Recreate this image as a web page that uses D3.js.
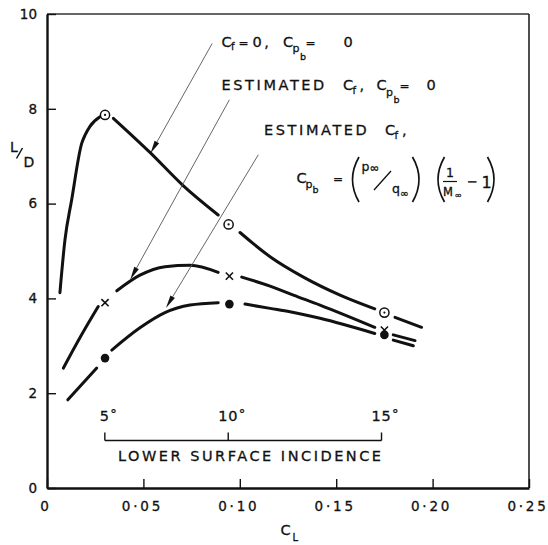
<!DOCTYPE html>
<html>
<head>
<meta charset="utf-8">
<script src="https://cdn.jsdelivr.net/npm/d3@7"></script>
<style>
  html, body { margin: 0; padding: 0; background: #fff; }
  svg { display: block; font-family: "DejaVu Sans", sans-serif; }
  svg text { stroke: #111; stroke-width: 0.3px; }
</style>
</head>
<body>
<svg id="chart" width="548" height="545"></svg>
<script>
// ---- axis ticks ----
const xTickValues = [0, 0.05, 0.10, 0.15, 0.20, 0.25];
const xTickLabels = ["0", "0·05", "0·10", "0·15", "0·20", "0·25"];
const yTickValues = [0, 2, 4, 6, 8, 10];
const yTickLabels = ["0", "2", "4", "6", "8", "10"];

// ---- L/D against C_L, each curve stored as its drawn pieces [C_L, L/D] ----
// C_f = 0, C_pb = 0
const zeroDragSegments = [
  [[0.0067, 4.12], [0.0093, 5.23], [0.0128, 6.08], [0.018, 7.27], [0.0198, 7.45], [0.0223, 7.63], [0.0275, 7.83]],
  [[0.0344, 7.80], [0.0534, 7.08], [0.0706, 6.38], [0.0888, 5.76]],
  [[0.1001, 5.39], [0.1157, 4.88], [0.133, 4.45], [0.152, 4.07], [0.170, 3.78]],
  [[0.1805, 3.60], [0.1943, 3.39]]
];
const zeroDragPoints = [[0.0301, 7.87], [0.0942, 5.56], [0.175, 3.70]];

// estimated C_f, C_pb = 0
const frictionSegments = [
  [[0.0085, 2.53], [0.0175, 3.20], [0.0266, 3.83]],
  [[0.0362, 4.16], [0.0482, 4.49], [0.0612, 4.67], [0.0742, 4.70], [0.0888, 4.55]],
  [[0.101, 4.45], [0.1157, 4.26], [0.1278, 4.07], [0.1416, 3.86], [0.170, 3.39]],
  [[0.1796, 3.23], [0.1909, 3.11]]
];
const frictionPoints = [[0.0301, 3.91], [0.0946, 4.47], [0.175, 3.33]];

// estimated C_f and base pressure
const basePressureSegments = [
  [[0.0108, 1.86], [0.0258, 2.53]],
  [[0.0336, 2.91], [0.0482, 3.38], [0.0612, 3.70], [0.0742, 3.86], [0.0888, 3.91]],
  [[0.1027, 3.88], [0.1157, 3.79], [0.126, 3.72], [0.1416, 3.58], [0.170, 3.26]],
  [[0.1796, 3.12], [0.19, 3.00]]
];
const basePressurePoints = [[0.0301, 2.74], [0.0946, 3.88], [0.175, 3.23]];

// lower surface incidence scale
const incidenceCL = [0.030, 0.094, 0.1735];
const incidenceLabels = ["5", "10", "15"];

// leader arrows: start at label, tip on curve [C_L, L/D]
const leaderStarts = [[0.0857, 9.38], [0.0946, 8.19], [0.1096, 7.03]];
const leaderTips = [[0.0537, 7.06], [0.0432, 4.40], [0.0617, 3.80]];

// ---- layout ----
const svg = d3.select("#chart");
const ink = "#111";
const x = d3.scaleLinear().domain([0, 0.25]).range([47, 529]);
const y = d3.scaleLinear().domain([0, 10]).range([488, 14]);

// frame (top and right)
svg.append("line").attr("x1", x(0)).attr("x2", x(0.25)).attr("y1", y(10)).attr("y2", y(10))
  .attr("stroke", "#333").attr("stroke-width", 1.3);
svg.append("line").attr("x1", x(0.25)).attr("x2", x(0.25)).attr("y1", y(10)).attr("y2", y(0))
  .attr("stroke", "#222").attr("stroke-width", 1.6);

// axes with inward ticks
const xAxis = d3.axisBottom(x).tickValues(xTickValues)
  .tickFormat((d, i) => xTickLabels[i]).tickSizeInner(-9).tickSizeOuter(0).tickPadding(13);
const yAxis = d3.axisLeft(y).tickValues(yTickValues)
  .tickFormat((d, i) => yTickLabels[i]).tickSizeInner(-9).tickSizeOuter(0).tickPadding(10);

const gx = svg.append("g").attr("transform", `translate(0,${y(0)})`).call(xAxis);
const gy = svg.append("g").attr("transform", `translate(${x(0)},0)`).call(yAxis);
[gx, gy].forEach(g => {
  g.attr("font-family", null).attr("font-size", null);
  g.select(".domain").attr("stroke", ink).attr("stroke-width", 2.4);
  g.selectAll(".tick line").attr("stroke", ink).attr("stroke-width", 1.4);
  g.selectAll(".tick text").attr("fill", ink).attr("font-size", 13.5);
});
gx.selectAll(".tick text").attr("letter-spacing", 2.8).attr("dx", -1.5);

// axis titles
svg.append("text").attr("x", 10).attr("y", 151.5).attr("fill", ink).attr("font-size", 14).text("L");
svg.append("line").attr("x1", 16.5).attr("y1", 158.5).attr("x2", 22.5).attr("y2", 148)
  .attr("stroke", ink).attr("stroke-width", 1.5);
svg.append("text").attr("x", 23.5).attr("y", 166.5).attr("fill", ink).attr("font-size", 14).text("D");
svg.append("text").attr("fill", ink)
  .call(t => {
    t.append("tspan").attr("x", 280.5).attr("y", 535).attr("font-size", 14.5).text("C");
    t.append("tspan").attr("x", 292.5).attr("y", 541).attr("font-size", 10).text("L");
  });

// ---- curves ----
const line = d3.line().x(d => x(d[0])).y(d => y(d[1])).curve(d3.curveMonotoneX);
const curves = svg.append("g").attr("fill", "none").attr("stroke", ink)
  .attr("stroke-width", 3).attr("stroke-linecap", "round");
[zeroDragSegments, frictionSegments, basePressureSegments].forEach(segs => {
  curves.selectAll(null).data(segs).enter().append("path").attr("d", line);
});

// markers
const m1 = svg.append("g").selectAll("g").data(zeroDragPoints).enter().append("g")
  .attr("transform", d => `translate(${x(d[0])},${y(d[1])})`);
m1.append("circle").attr("r", 4.6).attr("fill", "#fff").attr("stroke", ink).attr("stroke-width", 1.5);
m1.append("circle").attr("r", 1.1).attr("fill", ink);

svg.append("g").selectAll("path").data(frictionPoints).enter().append("path")
  .attr("transform", d => `translate(${x(d[0])},${y(d[1])})`)
  .attr("d", "M-3.6,-3.6L3.6,3.6M-3.6,3.6L3.6,-3.6")
  .attr("stroke", ink).attr("stroke-width", 1.6).attr("fill", "none");

svg.append("g").selectAll("circle").data(basePressurePoints).enter().append("circle")
  .attr("cx", d => x(d[0])).attr("cy", d => y(d[1])).attr("r", 4.3).attr("fill", ink);

// ---- leader arrows ----
const leaders = svg.append("g");
leaderStarts.forEach((s, i) => {
  const t = leaderTips[i];
  const x0 = x(s[0]), y0 = y(s[1]), x1 = x(t[0]), y1 = y(t[1]);
  const a = Math.atan2(y1 - y0, x1 - x0);
  const len = 13, half = 2.6;
  const bx = x1 - len * Math.cos(a), by = y1 - len * Math.sin(a);
  leaders.append("line").attr("x1", x0).attr("y1", y0).attr("x2", bx).attr("y2", by)
    .attr("stroke", "#555").attr("stroke-width", 0.9);
  leaders.append("path")
    .attr("d", `M${x1},${y1}L${bx + half * Math.sin(a)},${by - half * Math.cos(a)}L${bx - half * Math.sin(a)},${by + half * Math.cos(a)}Z`)
    .attr("fill", ink);
});

// ---- curve labels ----
function runs(items) {
  const t = svg.append("text").attr("fill", ink);
  items.forEach(r => {
    t.append("tspan").attr("x", r[1]).attr("y", r[2]).attr("font-size", r[3])
      .attr("letter-spacing", r[4] || 0).text(r[0]);
  });
  return t;
}
runs([
  ["C", 221.5, 46.5, 14.5], ["f", 231, 50, 10], ["=", 238.5, 46.5, 12], ["0,", 252.5, 46.5, 14.5, 2.5],
  ["C", 283, 46.5, 14.5], ["p", 292.5, 52, 11], ["b", 300, 59.5, 9.5], ["=", 305.5, 46.5, 12], ["0", 343.5, 46.5, 14.5]
]);
runs([
  ["ESTIMATED", 221.5, 90, 14.5, 2.6], ["C", 343, 90, 14.5], ["f", 352.5, 93.5, 10], [",", 359.5, 90, 14.5],
  ["C", 376.5, 90, 14.5], ["p", 386, 95.5, 11], ["b", 393.5, 103, 9.5], ["=", 399.5, 90, 12], ["0", 426.5, 90, 14.5]
]);
runs([
  ["ESTIMATED", 264, 135, 14.5, 2.6], ["C", 385, 135, 14.5], ["f", 394.5, 138.5, 10], [",", 402, 135, 14.5]
]);

// base pressure coefficient formula
runs([
  ["C", 296.5, 183, 14.5], ["p", 305.5, 187.5, 11], ["b", 312.5, 193, 9.5], ["=", 333, 183, 12],
  ["p", 361.5, 171, 12.5], ["∞", 369.5, 172, 11.5],
  ["q", 392, 193, 12.5], ["∞", 400, 197, 10.5],
  ["1", 446, 177, 12.5],
  ["M", 443, 195.5, 11.5], ["∞", 454.5, 197.5, 8.5],
  ["−", 467, 186, 13], ["1", 481.5, 187.5, 16]
]);
// solidus of p∞/q∞ and fraction bar of 1/M∞
svg.append("line").attr("x1", 374).attr("y1", 190).attr("x2", 391).attr("y2", 171)
  .attr("stroke", ink).attr("stroke-width", 1.3);
svg.append("line").attr("x1", 443).attr("x2", 457).attr("y1", 181.5).attr("y2", 181.5)
  .attr("stroke", ink).attr("stroke-width", 1.2);
// parentheses of the formula
const parenG = svg.append("g").attr("fill", "none").attr("stroke", ink).attr("stroke-width", 1.7);
[[359, -1], [412.5, 1], [444.5, -1], [487.5, 1]].forEach(p => {
  const [px, dir] = p;
  parenG.append("path").attr("d", `M${px},157Q${px + dir * 13},179.5 ${px},202`);
});

// ---- lower surface incidence scale ----
const inc = svg.append("g");
const barY = 440.5;
inc.append("line").attr("x1", x(incidenceCL[0])).attr("x2", x(incidenceCL[2]))
  .attr("y1", barY).attr("y2", barY).attr("stroke", ink).attr("stroke-width", 1.4);
inc.selectAll("line.t").data(incidenceCL).enter().append("line")
  .attr("x1", d => x(d)).attr("x2", d => x(d)).attr("y1", barY).attr("y2", barY - 8)
  .attr("stroke", ink).attr("stroke-width", 1.4);
incidenceCL.forEach((c, i) => {
  const t = inc.append("text").attr("fill", ink).attr("font-size", 14.5).attr("y", 420.5);
  const num = t.append("tspan").attr("letter-spacing", 0.8).text(incidenceLabels[i]);
  const w = num.node().getComputedTextLength();
  t.attr("x", x(c) - w / 2);
  t.append("tspan").attr("dx", 0.5).attr("dy", -3).attr("font-size", 13).text("°");
});
inc.append("text").attr("x", 118).attr("y", 460.5).attr("fill", ink).attr("font-size", 14.5)
  .attr("textLength", 263).attr("lengthAdjust", "spacing").text("LOWER SURFACE INCIDENCE");
</script>
</body>
</html>
